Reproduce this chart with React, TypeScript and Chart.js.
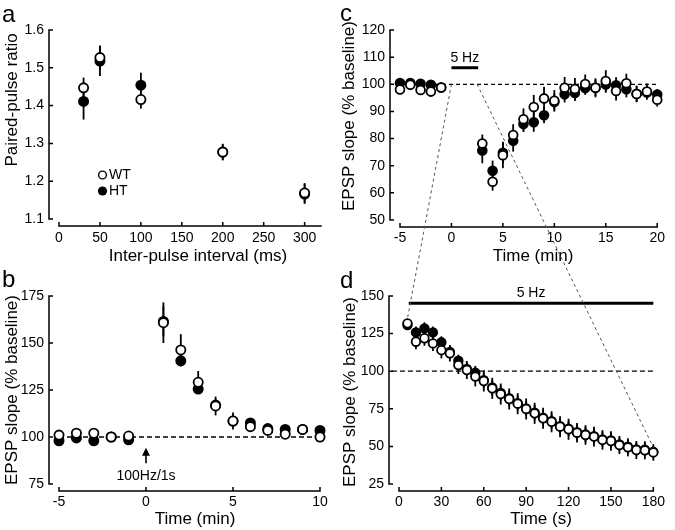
import React, { useEffect, useRef } from "react";
import { Chart, registerables } from "chart.js";
Chart.register(...registerables);

const W = 675;
const H = 530;
const FONT = "'Liberation Sans', Arial, Helvetica, sans-serif";

// ---------- Panel a: paired-pulse ratio ----------
const ppiIntervals = [30, 50, 100, 200, 300];
const ppiWT = [1.447, 1.527, 1.416, 1.277, 1.169];
const ppiWTErr = [0.027, 0.032, 0.024, 0.022, 0.026];
const ppiHT = [1.411, 1.518, 1.454, 1.277, 1.166];
const ppiHTErr = [0.048, 0.04, 0.033, 0.02, 0.026];
const ppiXTicks = [0, 50, 100, 150, 200, 250, 300];
const ppiYTicks = [1.1, 1.2, 1.3, 1.4, 1.5, 1.6];

// ---------- Panel b: 100 Hz / 1 s ----------
const ltpTime = [-5, -4, -3, -2, -1, 1, 2, 3, 4, 5, 6, 7, 8, 9, 10];
const ltpWT = [101, 102, 102, 100, 100.5, 160.8, 146.3, 129.1, 116.5, 108.5, 105.5, 103.5, 101.5, 104, 100];
const ltpWTErr = [1.5, 1.5, 1.5, 1.5, 1.5, 10.8, 8.4, 6, 5, 4.5, 2.5, 2, 2, 2, 2];
const ltpHT = [98, 99.5, 98, 100, 98.5, 161.5, 140.5, 125.5, 117, 108.5, 107.5, 104.5, 104, 104, 103.5];
const ltpHTErr = [1, 1, 1, 1, 1, 8, 3, 2, 3, 3, 2, 1.5, 1.5, 1.5, 1.5];
const ltpXTicks = [-5, 0, 5, 10];
const ltpYTicks = [75, 100, 125, 150, 175];

// ---------- Panel c: 5 Hz, minutes ----------
const ldTime = [-5, -4, -3, -2, -1, 3, 4, 5, 6, 7, 8, 9, 10, 11, 12, 13, 14, 15, 16, 17, 18, 19, 20];
const ldWT = [98.1, 99.8, 97.9, 97.3, 98.8, 78.2, 64.1, 73.9, 81.3, 87.1, 91.6, 94.8, 93.9, 98.7, 98.3, 100.1, 98.7, 101.2, 97.5, 100.4, 96.4, 97.3, 94.3];
const ldWTErr = [1, 1, 1, 1, 1, 3.3, 3.3, 4.8, 4, 4, 4.5, 4.3, 4, 4, 4, 3.5, 3.5, 4, 3.5, 3.5, 3, 3, 2.5];
const ldHT = [100.5, 100.5, 100.2, 99.8, 98.8, 75.6, 68.1, 74.8, 79.2, 85.4, 86.0, 88.6, 93.5, 96.3, 96.8, 98.6, 98.7, 99.9, 99.6, 98.2, 96.5, 97.0, 96.2];
const ldHTErr = [1, 1, 1, 1, 1, 4.7, 3.8, 4, 4, 3, 3.5, 3, 3, 3, 3, 2.5, 3, 3, 3, 3, 3, 2, 2];
const ldXTicks = [-5, 0, 5, 10, 15, 20];
const ldYTicks = [50, 60, 70, 80, 90, 100, 110, 120];

// ---------- Panel d: 5 Hz, seconds ----------
const trainTime = [6, 12, 18, 24, 30, 36, 42, 48, 54, 60, 66, 72, 78, 84, 90, 96, 102, 108, 114, 120, 126, 132, 138, 144, 150, 156, 162, 168, 174, 180];
const trainWT = [131.8, 119.6, 121.9, 118.5, 114, 111.9, 104.1, 100.8, 96.4, 93.5, 88.6, 84.8, 81.5, 78.4, 74.9, 72, 68.7, 66.4, 63.1, 61.4, 59.1, 57.6, 56.5, 54.3, 53.6, 50.9, 49.4, 47.6, 47.4, 46];
const trainWTErr = [3, 5, 5, 5, 5.5, 5.5, 6, 6, 6.5, 7, 7, 7, 7, 7, 7, 7, 7, 7, 7, 7, 6.5, 6.5, 6.5, 6.5, 6.5, 6, 6, 6, 6, 5.5];
const trainHT = [130.7, 125.8, 128.5, 125.8, 119.2, 112.8, 107, 101.5, 99, 94, 89.2, 85.5, 82, 78.8, 75.3, 72.4, 69, 66.8, 63.5, 61.8, 59.5, 58, 56.8, 54.7, 54, 51.3, 49.8, 48, 47.8, 46.4];
const trainHTErr = [3, 4, 4, 4, 4, 4, 4, 4.5, 4.5, 5, 5, 5, 5, 5, 5, 5, 5, 5, 5, 5, 5, 5, 5, 5, 5, 4.5, 4.5, 4.5, 4.5, 4];
const trainXTicks = [0, 30, 60, 90, 120, 150, 180];
const trainYTicks = [25, 50, 75, 100, 125, 150];

type Area = { left: number; top: number; right: number; bottom: number };
type Panel = {
  id: string;
  letter: string;
  letterPos: [number, number];
  area: Area;
  xMin: number; xMax: number; yMin: number; yMax: number;
  xTicks: number[]; yTicks: number[];
  xTitle: string; yTitle: string;
  xTitlePos: [number, number]; yTitlePos: [number, number];
  x: number[]; wt: number[]; wtErr: number[]; ht: number[]; htErr: number[];
  radius: number;
  xLabelPad: number;
  before?: (ctx: CanvasRenderingContext2D, xs: any, ys: any) => void;
  after?: (ctx: CanvasRenderingContext2D, xs: any, ys: any) => void;
};

function dashedRef(ctx: CanvasRenderingContext2D, xs: any, ys: any, x0: number, x1: number, v: number, dash: number[]) {
  ctx.save();
  ctx.strokeStyle = "#000";
  ctx.lineWidth = 1.3;
  ctx.setLineDash(dash);
  ctx.beginPath();
  ctx.moveTo(xs.getPixelForValue(x0), ys.getPixelForValue(v));
  ctx.lineTo(xs.getPixelForValue(x1), ys.getPixelForValue(v));
  ctx.stroke();
  ctx.restore();
}

function stimBar(ctx: CanvasRenderingContext2D, xs: any, ys: any, x0: number, x1: number, v: number, label: string) {
  const y = ys.getPixelForValue(v);
  const a = xs.getPixelForValue(x0);
  const b = xs.getPixelForValue(x1);
  ctx.save();
  ctx.strokeStyle = "#000";
  ctx.lineWidth = 3;
  ctx.beginPath();
  ctx.moveTo(a, y);
  ctx.lineTo(b, y);
  ctx.stroke();
  ctx.fillStyle = "#000";
  ctx.font = `14px ${FONT}`;
  ctx.textAlign = "center";
  ctx.textBaseline = "alphabetic";
  ctx.fillText(label, (a + b) / 2, y - 6);
  ctx.restore();
}

const panels: Panel[] = [
  {
    id: "a", letter: "a", letterPos: [2, 22],
    area: { left: 59, top: 30, right: 321, bottom: 219 },
    xMin: 0, xMax: 320, yMin: 1.1, yMax: 1.6,
    xTicks: ppiXTicks, yTicks: ppiYTicks,
    xTitle: "Inter-pulse interval (ms)", yTitle: "Paired-pulse ratio",
    xTitlePos: [198, 256], yTitlePos: [12, 100],
    x: ppiIntervals, wt: ppiWT, wtErr: ppiWTErr, ht: ppiHT, htErr: ppiHTErr,
    radius: 4.6, xLabelPad: 11,
    after: (ctx) => {
      ctx.save();
      ctx.lineWidth = 1.4;
      ctx.strokeStyle = "#000";
      ctx.beginPath();
      ctx.arc(102.5, 175, 3.9, 0, Math.PI * 2);
      ctx.fillStyle = "#fff";
      ctx.fill();
      ctx.stroke();
      ctx.beginPath();
      ctx.arc(102.5, 191, 4.6, 0, Math.PI * 2);
      ctx.fillStyle = "#000";
      ctx.fill();
      ctx.font = `14px ${FONT}`;
      ctx.textAlign = "left";
      ctx.textBaseline = "middle";
      ctx.fillText("WT", 109, 175);
      ctx.fillText("HT", 109, 191);
      ctx.restore();
    },
  },
  {
    id: "b", letter: "b", letterPos: [2, 287],
    area: { left: 59, top: 296, right: 320, bottom: 484 },
    xMin: -5, xMax: 10, yMin: 75, yMax: 175,
    xTicks: ltpXTicks, yTicks: ltpYTicks,
    xTitle: "Time (min)", yTitle: "EPSP slope (% baseline)",
    xTitlePos: [195, 519], yTitlePos: [12, 390],
    x: ltpTime, wt: ltpWT, wtErr: ltpWTErr, ht: ltpHT, htErr: ltpHTErr,
    radius: 4.6, xLabelPad: 10,
    before: (ctx, xs, ys) => dashedRef(ctx, xs, ys, -5, 10, 100, [5, 3]),
    after: (ctx, xs, ys) => {
      const x = xs.getPixelForValue(0);
      const tip = ys.getPixelForValue(94.3);
      const base = ys.getPixelForValue(86);
      ctx.save();
      ctx.strokeStyle = "#000";
      ctx.fillStyle = "#000";
      ctx.lineWidth = 1.6;
      ctx.beginPath();
      ctx.moveTo(x, base);
      ctx.lineTo(x, tip + 4);
      ctx.stroke();
      ctx.beginPath();
      ctx.moveTo(x, tip);
      ctx.lineTo(x - 4, tip + 8);
      ctx.lineTo(x + 4, tip + 8);
      ctx.closePath();
      ctx.fill();
      ctx.font = `14px ${FONT}`;
      ctx.textAlign = "center";
      ctx.textBaseline = "alphabetic";
      ctx.fillText("100Hz/1s", x, base + 17);
      ctx.restore();
    },
  },
  {
    id: "c", letter: "c", letterPos: [340, 21],
    area: { left: 400, top: 30, right: 661, bottom: 220 },
    xMin: -5, xMax: 20, yMin: 50, yMax: 120,
    xTicks: ldXTicks, yTicks: ldYTicks,
    xTitle: "Time (min)", yTitle: "EPSP slope (% baseline)",
    xTitlePos: [533, 256], yTitlePos: [349, 116],
    x: ldTime, wt: ldWT, wtErr: ldWTErr, ht: ldHT, htErr: ldHTErr,
    radius: 4.4, xLabelPad: 10,
    before: (ctx, xs, ys) => dashedRef(ctx, xs, ys, -5, 20, 100, [4, 3]),
    after: (ctx, xs, ys) => stimBar(ctx, xs, ys, 0, 2.6, 106.1, "5 Hz"),
  },
  {
    id: "d", letter: "d", letterPos: [340, 288],
    area: { left: 399, top: 296, right: 661, bottom: 484 },
    xMin: 0, xMax: 180, yMin: 25, yMax: 150,
    xTicks: trainXTicks, yTicks: trainYTicks,
    xTitle: "Time (s)", yTitle: "EPSP slope (% baseline)",
    xTitlePos: [541, 519], yTitlePos: [350, 392],
    x: trainTime, wt: trainWT, wtErr: trainWTErr, ht: trainHT, htErr: trainHTErr,
    radius: 4.3, xLabelPad: 10,
    before: (ctx, xs, ys) => dashedRef(ctx, xs, ys, -5, 180, 100, [5, 3]),
    after: (ctx, xs, ys) => stimBar(ctx, xs, ys, 6.9, 180, 145.1, "5 Hz"),
  },
];

function makeChart(canvas: HTMLCanvasElement, p: Panel) {
  const yScaleW = 55;
  const xScaleH = 40;
  const yAxisGap = 10;
  const xAxisGap = 7;
  const tickLen = 4;
  const plugin = {
    id: "panel_" + p.id,
    beforeDatasetsDraw(chart: any) {
      const ctx = chart.ctx as CanvasRenderingContext2D;
      const xs = chart.scales.x;
      const ys = chart.scales.y;
      if (p.before) p.before(ctx, xs, ys);
      ctx.save();
      ctx.strokeStyle = "#000";
      ctx.lineWidth = 1.8;
      const series: [number[], number[]][] = [[p.ht, p.htErr], [p.wt, p.wtErr]];
      for (const [vals, errs] of series) {
        vals.forEach((v, i) => {
          const x = xs.getPixelForValue(p.x[i]);
          ctx.beginPath();
          ctx.moveTo(x, ys.getPixelForValue(v - errs[i]));
          ctx.lineTo(x, ys.getPixelForValue(v + errs[i]));
          ctx.stroke();
        });
      }
      ctx.restore();
    },
    afterDatasetsDraw(chart: any) {
      const ctx = chart.ctx as CanvasRenderingContext2D;
      const xs = chart.scales.x;
      const ys = chart.scales.y;
      const ca = chart.chartArea;
      ctx.save();
      ctx.strokeStyle = "#000";
      ctx.lineWidth = 1.5;
      ctx.lineCap = "butt";
      // y axis
      const ax = ca.left - yAxisGap;
      ctx.beginPath();
      ctx.moveTo(ax, ys.getPixelForValue(p.yMin) + 0.75);
      ctx.lineTo(ax, ys.getPixelForValue(p.yMax) - 0.75);
      for (const t of p.yTicks) {
        const y = ys.getPixelForValue(t);
        ctx.moveTo(ax, y);
        ctx.lineTo(ax + tickLen, y);
      }
      ctx.stroke();
      // x axis
      const ay = ca.bottom + xAxisGap;
      ctx.beginPath();
      ctx.moveTo(xs.getPixelForValue(p.xMin) - 0.75, ay);
      ctx.lineTo(xs.getPixelForValue(p.xMax) + 0.75, ay);
      for (const t of p.xTicks) {
        const x = xs.getPixelForValue(t);
        ctx.moveTo(x, ay);
        ctx.lineTo(x, ay - tickLen);
      }
      ctx.stroke();
      // titles
      ctx.fillStyle = "#000";
      ctx.font = `17px ${FONT}`;
      ctx.textAlign = "center";
      ctx.textBaseline = "middle";
      ctx.fillText(p.xTitle, p.xTitlePos[0], p.xTitlePos[1]);
      ctx.save();
      ctx.translate(p.yTitlePos[0], p.yTitlePos[1]);
      ctx.rotate(-Math.PI / 2);
      ctx.fillText(p.yTitle, 0, 0);
      ctx.restore();
      // panel letter
      ctx.font = `24px ${FONT}`;
      ctx.textAlign = "left";
      ctx.textBaseline = "alphabetic";
      ctx.fillText(p.letter, p.letterPos[0], p.letterPos[1]);
      ctx.restore();
      if (p.after) p.after(ctx, xs, ys);
    },
  };

  const mkDs = (label: string, vals: number[], fill: string) => ({
    label,
    data: p.x.map((x, i) => ({ x, y: vals[i] })),
    showLine: false,
    clip: false as any,
    pointRadius: p.radius,
    pointHoverRadius: p.radius,
    pointBorderWidth: 1.8,
    pointBackgroundColor: fill,
    pointBorderColor: "#000",
    backgroundColor: fill,
    borderColor: "#000",
  });

  const tickFont = { family: FONT, size: 14 };
  const fmt = (v: any) => String(v);

  return new Chart(canvas, {
    type: "scatter",
    data: {
      // dataset 0 is drawn last (on top): open WT circles over filled HT circles
      datasets: [mkDs("WT", p.wt, "#fff"), mkDs("HT", p.ht, "#000")],
    },
    options: {
      responsive: false,
      animation: false,
      devicePixelRatio: 1,
      events: [],
      layout: {
        padding: {
          left: p.area.left - yScaleW,
          top: p.area.top,
          right: W - p.area.right,
          bottom: H - p.area.bottom - xScaleH,
        },
      },
      plugins: { legend: { display: false }, tooltip: { enabled: false } },
      scales: {
        x: {
          type: "linear",
          min: p.xMin,
          max: p.xMax,
          afterBuildTicks: (s: any) => {
            s.ticks = p.xTicks.map((v) => ({ value: v }));
          },
          afterFit: (s: any) => {
            s.height = xScaleH;
          },
          grid: { display: false, drawTicks: false },
          border: { display: false },
          ticks: { padding: p.xLabelPad, font: tickFont, color: "#000", maxRotation: 0, autoSkip: false, callback: fmt },
        },
        y: {
          type: "linear",
          min: p.yMin,
          max: p.yMax,
          afterBuildTicks: (s: any) => {
            s.ticks = p.yTicks.map((v) => ({ value: v }));
          },
          afterFit: (s: any) => {
            s.width = yScaleW;
          },
          grid: { display: false, drawTicks: false },
          border: { display: false },
          ticks: { padding: 15, font: tickFont, color: "#000", autoSkip: false, callback: fmt },
        },
      },
    } as any,
    plugins: [plugin],
  });
}

export default function App() {
  const r0 = useRef<HTMLCanvasElement>(null);
  const r1 = useRef<HTMLCanvasElement>(null);
  const r2 = useRef<HTMLCanvasElement>(null);
  const r3 = useRef<HTMLCanvasElement>(null);
  const overlay = useRef<HTMLCanvasElement>(null);

  useEffect(() => {
    const refs = [r0, r1, r2, r3];
    const charts = panels.map((p, i) => makeChart(refs[i].current!, p));
    const cv = overlay.current!;
    const ctx = cv.getContext("2d")!;
    ctx.clearRect(0, 0, W, H);
    const c = charts[2];
    const d = charts[3];
    const cx = c.scales.x, cy = c.scales.y, dx = d.scales.x, dy = d.scales.y;
    ctx.save();
    ctx.strokeStyle = "#555";
    ctx.lineWidth = 1;
    ctx.setLineDash([3, 3]);
    ctx.beginPath();
    ctx.moveTo(cx.getPixelForValue(0), cy.getPixelForValue(100));
    ctx.lineTo(dx.getPixelForValue(trainTime[0]), dy.getPixelForValue(trainWT[0]) - 5);
    ctx.moveTo(cx.getPixelForValue(2.5), cy.getPixelForValue(100));
    ctx.lineTo(dx.getPixelForValue(trainTime[trainTime.length - 1]), dy.getPixelForValue(trainWT[trainWT.length - 1]) - 5);
    ctx.stroke();
    ctx.restore();
    return () => {
      charts.forEach((ch) => ch.destroy());
    };
  }, []);

  const cs: React.CSSProperties = { position: "absolute", left: 0, top: 0 };
  return (
    <div style={{ position: "fixed", left: 0, top: 0, width: W, height: H, background: "#fff", overflow: "hidden" }}>
      <canvas ref={r0} width={W} height={H} style={cs} />
      <canvas ref={r1} width={W} height={H} style={cs} />
      <canvas ref={r2} width={W} height={H} style={cs} />
      <canvas ref={r3} width={W} height={H} style={cs} />
      <canvas ref={overlay} width={W} height={H} style={{ ...cs, pointerEvents: "none" }} />
    </div>
  );
}
